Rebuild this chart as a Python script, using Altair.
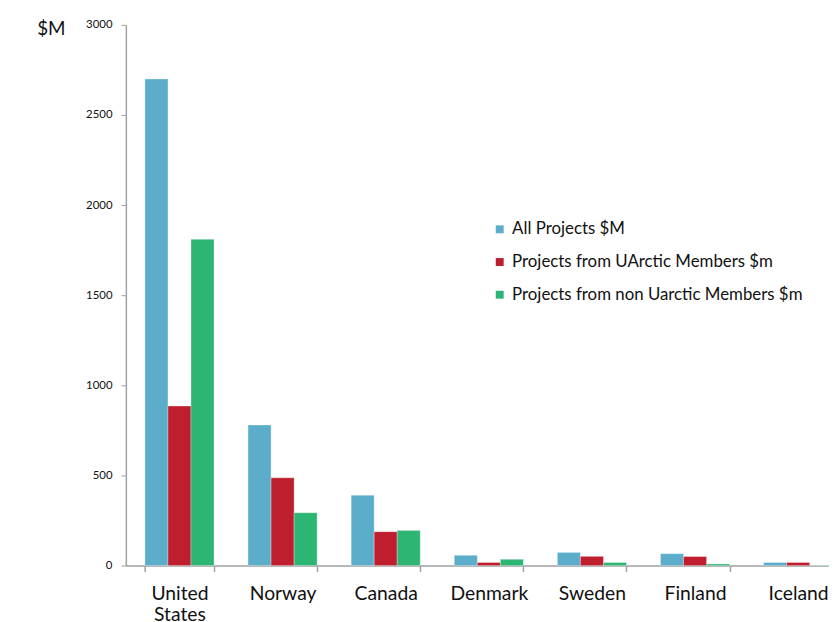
import altair as alt
import pandas as pd

countries = ["United States", "Norway", "Canada", "Denmark", "Sweden", "Finland", "Iceland"]
series = ["All Projects $M", "Projects from UArctic Members $m", "Projects from non Uarctic Members $m"]
all_projects = [2700, 780, 390, 57, 73, 66, 17]
uarctic_members = [885, 487, 188, 17, 51, 50, 17]
non_uarctic_members = [1810, 293, 195, 35, 17, 9, 2]
colors = ["#5BADCA", "#BE1E2E", "#2DB574"]
y_ticks = [0, 500, 1000, 1500, 2000, 2500, 3000]

rows = []
for i, c in enumerate(countries):
    for s, vals in zip(series, [all_projects, uarctic_members, non_uarctic_members]):
        rows.append({"country": c, "series": s, "value": vals[i]})
df = pd.DataFrame(rows)

FONT = "Lato"

chart = alt.Chart(df).mark_bar(stroke="white", strokeWidth=0.6, strokeOpacity=0.5).encode(
    x=alt.X(
        "country:N",
        sort=countries,
        scale=alt.Scale(range=[0, 733], paddingInner=0.33, paddingOuter=0.185),
        axis=alt.Axis(
            title=None,
            labelAngle=0,
            tickBand="extent",
            labelFont=FONT,
            labelFontSize=19.5,
            labelColor="#111111",
            labelPadding=13,
            labelLineHeight=21,
            labelExpr="isString(datum.value) ? split(datum.value, ' ') : ''",
            tickSize=6,
            tickColor="#A0A0A0",
            domainColor="#A0A0A0",
            domainWidth=1.5,
            tickWidth=1.5,
        ),
    ),
    xOffset=alt.XOffset("series:N", sort=series),
    y=alt.Y(
        "value:Q",
        scale=alt.Scale(domain=[0, 3000], nice=False),
        axis=alt.Axis(
            values=y_ticks,
            format="d",
            grid=False,
            title="$M",
            titleAngle=0,
            titleAlign="left",
            titleBaseline="alphabetic",
            titleX=-90,
            titleY=10,
            titleFont=FONT,
            titleFontSize=19,
            titleFontWeight="normal",
            titleColor="#111111",
            labelFont=FONT,
            labelFontSize=11.5,
            labelColor="#111111",
            labelPadding=9,
            tickSize=5,
            tickColor="#A0A0A0",
            domainColor="#A0A0A0",
            domainWidth=1.5,
        ),
    ),
    color=alt.Color(
        "series:N",
        sort=series,
        scale=alt.Scale(domain=series, range=colors),
        legend=alt.Legend(
            title=None,
            orient="none",
            legendX=369,
            legendY=198,
            symbolType="square",
            symbolSize=64,
            symbolStrokeWidth=0,
            labelFont=FONT,
            labelFontSize=17,
            labelColor="#111111",
            labelOffset=4,
            labelLimit=500,
            rowPadding=15,
        ),
    ),
).properties(
    width=710,
    height=546,
    autosize=alt.AutoSizeParams(type="none"),
    padding={"left": 119, "top": 14, "right": 0, "bottom": 56},
).configure_view(stroke=None)

chart.save("out.html", embed_options={"renderer": "svg", "actions": False})
